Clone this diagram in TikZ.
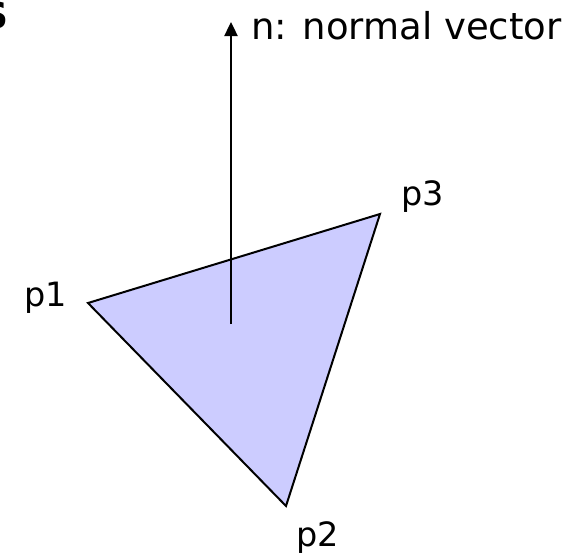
\documentclass[tikz,border=0pt]{standalone}
\usepackage{fontspec}
\setmainfont{DejaVu Sans}
\usetikzlibrary{arrows.meta}
\definecolor{facefill}{HTML}{CCCCFF}
\begin{document}
\begin{tikzpicture}[x=1pt,y=-1pt,
  lbl/.style={font=\fontsize{33.5}{38}\selectfont, inner sep=0pt, anchor=base},
  edge/.style={line width=2pt, line join=miter},
  normalarrow/.style={line width=2.4pt, -{Triangle[length=14pt,width=13pt]}}]
\useasboundingbox (0,0) rectangle (583,555);
\clip (0,0) rectangle (583,555);
\node[font=\bfseries\fontsize{36}{40}\selectfont, inner sep=0pt, anchor=base east] (title) at (9,28) {S};
\coordinate (p1) at (88,303);
\coordinate (p3) at (380,214);
\coordinate (p2) at (286,506);
\filldraw[edge, fill=facefill] (p1) -- (p3) -- (p2) -- cycle;
\coordinate (nbase) at (231,324);
\coordinate (ntip) at (231,22);
\draw[normalarrow] (nbase) -- (ntip);
\node[lbl, anchor=base west, font=\fontsize{37}{42}\selectfont] (nlab) at (251,39) {n: normal vector};
\node[lbl] (l1) at (46,306) {p1};
\node[lbl] (l3) at (423,205) {p3};
\node[lbl] (l2) at (318,546) {p2};
\end{tikzpicture}
\end{document}
